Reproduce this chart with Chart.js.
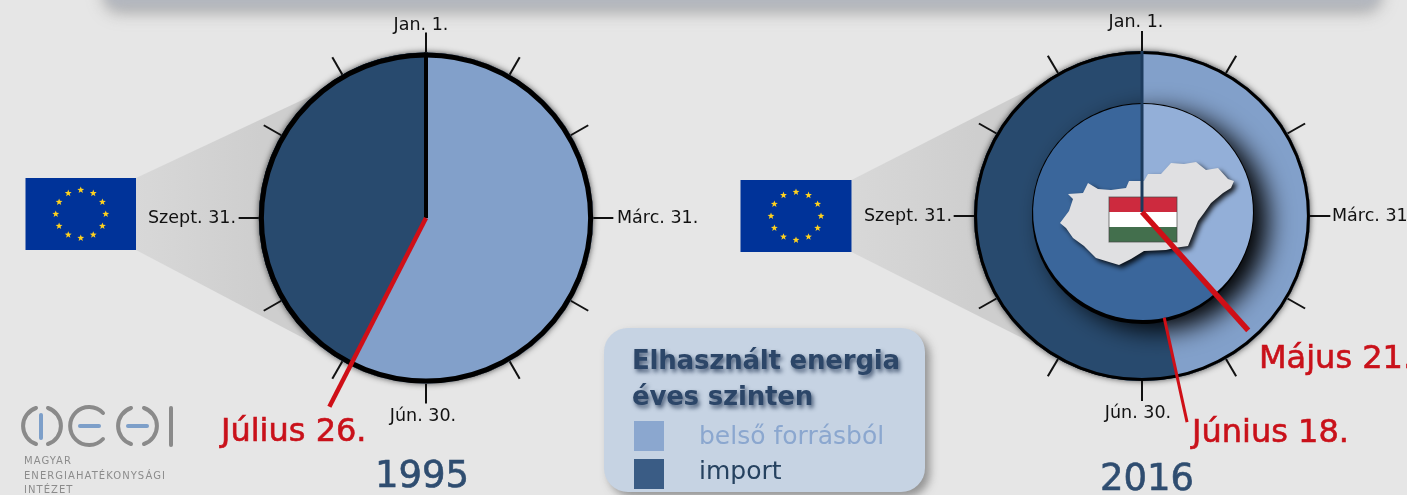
<!DOCTYPE html>
<html lang="hu">
<head>
<meta charset="utf-8">
<title>Elhasznált energia éves szinten</title>
<script src="https://cdn.jsdelivr.net/npm/chart.js@4"></script>
<style>
    html, body { margin: 0; width: 1407px; height: 495px; overflow: hidden; background: #e6e6e6; font-family: "DejaVu Sans", sans-serif; }
    canvas { position: absolute; top: 0; }
    #chartLeft { left: 0; }
    #chartRight { left: 707px; }
    #banner { position: absolute; left: 105px; top: -40px; width: 1275px; height: 47px; border-radius: 14px; background: #b3b7bf; box-shadow: 0 4px 14px rgba(120, 120, 120, .7); filter: blur(5px); }
    #legendBox { position: absolute; left: 604px; top: 328px; width: 321px; height: 164px; border-radius: 24px; background: #c6d3e3; box-shadow: 5px 5px 9px rgba(80, 80, 80, .55); z-index: 2; }
    .legendTitle { position: absolute; left: 28px; font-weight: bold; font-size: 26px; letter-spacing: -.2px; color: #2c4668; text-shadow: 2px 3px 4px rgba(30, 50, 80, .75); white-space: nowrap; }
    .swatch { position: absolute; left: 30px; width: 30px; height: 30px; }
    .legendLabel { position: absolute; left: 95px; font-size: 25px; white-space: nowrap; }
    #logo { position: absolute; left: 0; top: 395px; }
    .logoText { position: absolute; left: 24px; font-size: 10px; letter-spacing: 1.05px; color: #8c8c8c; white-space: nowrap; }
</style>
</head>
<body>
<div id="banner"></div>
<canvas id="chartLeft" width="700" height="495"></canvas>
<canvas id="chartRight" width="700" height="495"></canvas>

<svg id="logo" width="190" height="60" fill="none" stroke-linecap="round">
    <g stroke="#8a8a8a" stroke-width="4">
        <path d="M36 13 A19 19 0 0 0 36 49"/>
        <path d="M48 13 A19 19 0 0 1 48 49"/>
        <path d="M103 18 A19 19 0 1 0 103 44"/>
        <path d="M131 13 A19 19 0 0 0 131 49"/>
        <path d="M144 13 A19 19 0 0 1 144 49"/>
        <path d="M171 13 L171 50"/>
    </g>
    <g stroke="#7d9fc9" stroke-width="4">
        <path d="M41 20 L41 43"/>
        <path d="M80 31 L99 31"/>
        <path d="M128 31 L147 31"/>
    </g>
</svg>
<div class="logoText" id="logoLine0" style="top:455px"></div>
<div class="logoText" id="logoLine1" style="top:470px"></div>
<div class="logoText" id="logoLine2" style="top:484px"></div>

<div id="legendBox">
    <div class="legendTitle" id="legendTitle0" style="top:17px"></div>
    <div class="legendTitle" id="legendTitle1" style="top:53px"></div>
    <div class="swatch" id="swatch0" style="top:93px"></div>
    <div class="swatch" id="swatch1" style="top:131px"></div>
    <div class="legendLabel" id="legendLabel0" style="top:93px"></div>
    <div class="legendLabel" id="legendLabel1" style="top:128px"></div>
</div>

<script>
// Adatok: napok száma az évből (belső forrásból, import)
const sourceLabels = ['belső forrásból', 'import'];
const eu1995 = [210, 155];
const eu2016 = [170, 195];
const hu2016 = [140, 225];

const tickLabels = ['Jan. 1.', 'Márc. 31.', 'Jún. 30.', 'Szept. 31.'];
const years = ['1995', '2016'];
const markerLabels = ['Július 26.', 'Június 18.', 'Május 21.'];
const legendTitle = ['Elhasznált energia', 'éves szinten'];
const logoLines = ['MAGYAR', 'ENERGIAHATÉKONYSÁGI', 'INTÉZET'];

const OWN = '#82a0ca', IMP = '#284a6e', OWN_IN = '#93afd8', IMP_IN = '#3a669b';
const RED = '#cf0f17';

// Magyarország körvonala a zászló közepéhez képest
const hungaryShape = [[-83,11],[-74,-1],[-70,-13],[-75,-18],[-60,-19],[-55,-29],[-45,-23],[-32,-22],[-17,-24],[-14,-31],[1,-31],[5,-38],[18,-38],[28,-49],[41,-48],[53,-50],[63,-42],[75,-44],[85,-33],[91,-31],[88,-24],[80,-19],[68,-9],[61,1],[55,9],[45,34],[31,36],[23,38],[1,39],[-12,47],[-24,53],[-34,50],[-47,46],[-59,34],[-70,26],[-77,16]];

function drawStar(ctx, x, y, r) {
    ctx.beginPath();
    for (let i = 0; i < 10; i++) {
        const a = -Math.PI / 2 + i * Math.PI / 5;
        const d = i % 2 ? r * 0.42 : r;
        ctx.lineTo(x + Math.cos(a) * d, y + Math.sin(a) * d);
    }
    ctx.closePath();
    ctx.fill();
}

function drawEuFlag(ctx, x, y, w, h) {
    ctx.fillStyle = '#003399';
    ctx.fillRect(x, y, w, h);
    ctx.fillStyle = '#ffd21e';
    for (let i = 0; i < 12; i++) {
        const a = i * Math.PI / 6;
        drawStar(ctx, x + w / 2 + Math.cos(a) * 25, y + h / 2 + Math.sin(a) * 24, 3.6);
    }
}

function drawHungary(ctx, cx, cy) {
    ctx.save();
    ctx.shadowColor = 'rgba(0,0,0,.85)';
    ctx.shadowBlur = 5;
    ctx.shadowOffsetX = 3;
    ctx.shadowOffsetY = 3;
    ctx.fillStyle = '#e0e0e2';
    ctx.beginPath();
    hungaryShape.forEach(p => ctx.lineTo(cx + p[0], cy + p[1]));
    ctx.closePath();
    ctx.fill();
    ctx.restore();
    // zászló
    const colors = ['#cd2a3e', '#ffffff', '#436f4d'];
    colors.forEach((c, i) => {
        ctx.fillStyle = c;
        ctx.fillRect(cx - 34, cy - 15 + i * 15, 68, 15);
    });
    ctx.strokeStyle = 'rgba(70,70,70,.7)';
    ctx.lineWidth = 1;
    ctx.strokeRect(cx - 34, cy - 15, 68, 45);
}

function heavyText(ctx, text, x, y, color) {
    ctx.fillStyle = color;
    ctx.strokeStyle = color;
    ctx.lineWidth = 0.6;
    ctx.fillText(text, x, y);
    ctx.strokeText(text, x, y);
}

// A számlap, a zászló és a feliratok a kördiagram köré
function clockPlugin(cfg) {
    return {
        id: 'clockFace',
        beforeDatasetsDraw(chart) {
            const ctx = chart.ctx;
            const arc = chart.getDatasetMeta(0).data[0];
            const {x, y, outerRadius: r} = arc;

            // szürke kúp a zászlótól a körig
            const grad = ctx.createLinearGradient(cfg.flag.x + cfg.flag.w, 0, x - r, 0);
            grad.addColorStop(0, '#d8d8d8');
            grad.addColorStop(1, '#cecece');
            ctx.fillStyle = grad;
            ctx.beginPath();
            ctx.moveTo(cfg.flag.x + cfg.flag.w, cfg.flag.y);
            ctx.lineTo(x + cfg.cone[0][0], y + cfg.cone[0][1]);
            ctx.lineTo(x, y);
            ctx.lineTo(x + cfg.cone[1][0], y + cfg.cone[1][1]);
            ctx.lineTo(cfg.flag.x + cfg.flag.w, cfg.flag.y + cfg.flag.h);
            ctx.closePath();
            ctx.fill();
            drawEuFlag(ctx, cfg.flag.x, cfg.flag.y, cfg.flag.w, cfg.flag.h);

            // a kör kissé széthúzva, mint az eredetin
            ctx.save();
            ctx.translate(x, y);
            ctx.scale(cfg.sx, 1);
            ctx.translate(-x, -y);

            // osztásvonalak
            ctx.strokeStyle = '#111';
            ctx.lineWidth = 2;
            for (let i = 0; i < 12; i++) {
                const a = i * Math.PI / 6;
                ctx.beginPath();
                ctx.moveTo(x + Math.sin(a) * r, y - Math.cos(a) * r);
                ctx.lineTo(x + Math.sin(a) * (r + 20), y - Math.cos(a) * (r + 20));
                ctx.stroke();
            }

            // sötét udvar a kör körül
            ctx.save();
            ctx.shadowColor = 'rgba(0,0,0,.7)';
            ctx.shadowBlur = 6;
            ctx.fillStyle = '#000';
            ctx.beginPath();
            ctx.arc(x, y, r, 0, Math.PI * 2);
            ctx.fill();
            ctx.restore();
        },
        beforeDatasetDraw(chart, args) {
            if (args.index !== 1) return;
            const ctx = chart.ctx;
            const arc = chart.getDatasetMeta(1).data[0];
            ctx.save();
            ctx.translate(arc.x + cfg.inner.dx, arc.y + cfg.inner.dy);
            ctx.scale(cfg.inner.sx, 1);
            ctx.translate(-arc.x, -arc.y);
            // belső kör árnyéka
            ctx.save();
            ctx.shadowColor = '#000';
            ctx.shadowBlur = 26;
            ctx.shadowOffsetX = 14;
            ctx.shadowOffsetY = 9;
            ctx.fillStyle = '#000';
            ctx.beginPath();
            ctx.arc(arc.x, arc.y, arc.outerRadius + 1, 0, Math.PI * 2);
            ctx.fill();
            ctx.restore();
        },
        afterDatasetDraw(chart, args) {
            if (args.index === 1) chart.ctx.restore();
        },
        afterDatasetsDraw(chart) {
            const ctx = chart.ctx;
            const outerMeta = chart.getDatasetMeta(0);
            const {x, y, outerRadius: r} = outerMeta.data[0];

            // külső keret
            ctx.strokeStyle = '#000';
            ctx.lineWidth = cfg.ringWidth;
            ctx.beginPath();
            ctx.arc(x, y, r - cfg.ringWidth / 2, 0, Math.PI * 2);
            ctx.stroke();
            ctx.restore();

            if (cfg.inner) drawHungary(ctx, x + cfg.inner.dx, y + cfg.inner.dy);

            // január 1. sugár
            const hy = cfg.inner ? y + cfg.inner.dy : y;
            ctx.strokeStyle = cfg.spoke;
            ctx.lineWidth = cfg.spokeWidth;
            ctx.beginPath();
            ctx.moveTo(x, y - r);
            ctx.lineTo(x, hy);
            ctx.stroke();

            // piros jelölők: a szög a körcikk végéből jön
            ctx.strokeStyle = RED;
            cfg.markers.forEach(m => {
                const a = chart.getDatasetMeta(m.dataset).data[0].endAngle;
                const oy = m.dataset === 1 ? hy : y;
                ctx.lineWidth = m.width;
                ctx.beginPath();
                ctx.moveTo(x + Math.cos(a) * m.from, oy + Math.sin(a) * m.from);
                ctx.lineTo(x + Math.cos(a) * m.to, oy + Math.sin(a) * m.to);
                ctx.stroke();
            });

            // feliratok
            ctx.textBaseline = 'middle';
            ctx.fillStyle = '#111';
            ctx.font = '17.5px "DejaVu Sans"';
            cfg.ticks.forEach((t, i) => {
                ctx.textAlign = t.align;
                ctx.fillText(tickLabels[i], t.x, t.y);
            });
            ctx.textAlign = 'left';
            ctx.font = '32px "DejaVu Sans"';
            cfg.labels.forEach(l => heavyText(ctx, markerLabels[l.i], l.x, l.y, '#c9111a'));
            ctx.font = '37px "DejaVu Sans"';
            heavyText(ctx, cfg.year, cfg.yearX, cfg.yearY, '#2f4d70');
        }
    };
}

function buildChart(id, datasets, cx, cy, r, cfg) {
    new Chart(document.getElementById(id), {
        type: 'pie',
        data: { labels: sourceLabels, datasets: datasets },
        options: {
            responsive: false,
            animation: false,
            cutout: 0,
            layout: { padding: { left: cx - r, right: 700 - cx - r, top: cy - r, bottom: 495 - cy - r } },
            plugins: { legend: { display: false }, tooltip: { enabled: false } }
        },
        plugins: [clockPlugin(cfg)]
    });
}

buildChart('chartLeft', [
    { data: eu1995, backgroundColor: [OWN, IMP], borderWidth: 0, clip: false }
], 426, 218, 165.5, {
    flag: { x: 25.5, y: 178, w: 110.5, h: 72 },
    cone: [[-96, -131], [-100, 132]],
    sx: 1.01,
    ringWidth: 5,
    spoke: '#000',
    spokeWidth: 4,
    markers: [{ dataset: 0, from: 0, to: 212, width: 4.5 }],
    ticks: [
        { x: 421, y: 25, align: 'center' },
        { x: 617, y: 218, align: 'left' },
        { x: 423, y: 416, align: 'center' },
        { x: 236, y: 218, align: 'right' }
    ],
    labels: [{ i: 0, x: 221, y: 433 }],
    year: years[0],
    yearX: 375,
    yearY: 477
});

buildChart('chartRight', [
    { data: eu2016, backgroundColor: [OWN, IMP], borderWidth: 0, weight: 57, order: 1, clip: false },
    { data: hu2016, backgroundColor: [OWN_IN, IMP_IN], borderWidth: 0, weight: 108, order: 0, clip: false }
], 435, 216, 165, {
    flag: { x: 33.5, y: 180, w: 111, h: 72 },
    cone: [[-92, -137], [-102, 131]],
    sx: 1.018,
    ringWidth: 3,
    inner: { dx: 1, dy: -4, sx: 1.0 },
    spoke: '#1c3a5c',
    spokeWidth: 3,
    markers: [
        { dataset: 0, from: 104, to: 211, width: 3 },
        { dataset: 1, from: 0, to: 159, width: 5.5 }
    ],
    ticks: [
        { x: 429, y: 22, align: 'center' },
        { x: 625, y: 216, align: 'left' },
        { x: 431, y: 413, align: 'center' },
        { x: 245, y: 216, align: 'right' }
    ],
    labels: [{ i: 1, x: 485, y: 434 }, { i: 2, x: 552, y: 360 }],
    year: years[1],
    yearX: 393,
    yearY: 480
});

// HTML jelmagyarázat
legendTitle.forEach((t, i) => document.getElementById('legendTitle' + i).textContent = t);
sourceLabels.forEach((t, i) => document.getElementById('legendLabel' + i).textContent = t);
logoLines.forEach((t, i) => document.getElementById('logoLine' + i).textContent = t);
document.getElementById('swatch0').style.background = '#8ba7cf';
document.getElementById('swatch1').style.background = '#3a5c85';
document.getElementById('legendLabel0').style.color = '#8ba7cf';
document.getElementById('legendLabel1').style.color = '#264260';
</script>
</body>
</html>
